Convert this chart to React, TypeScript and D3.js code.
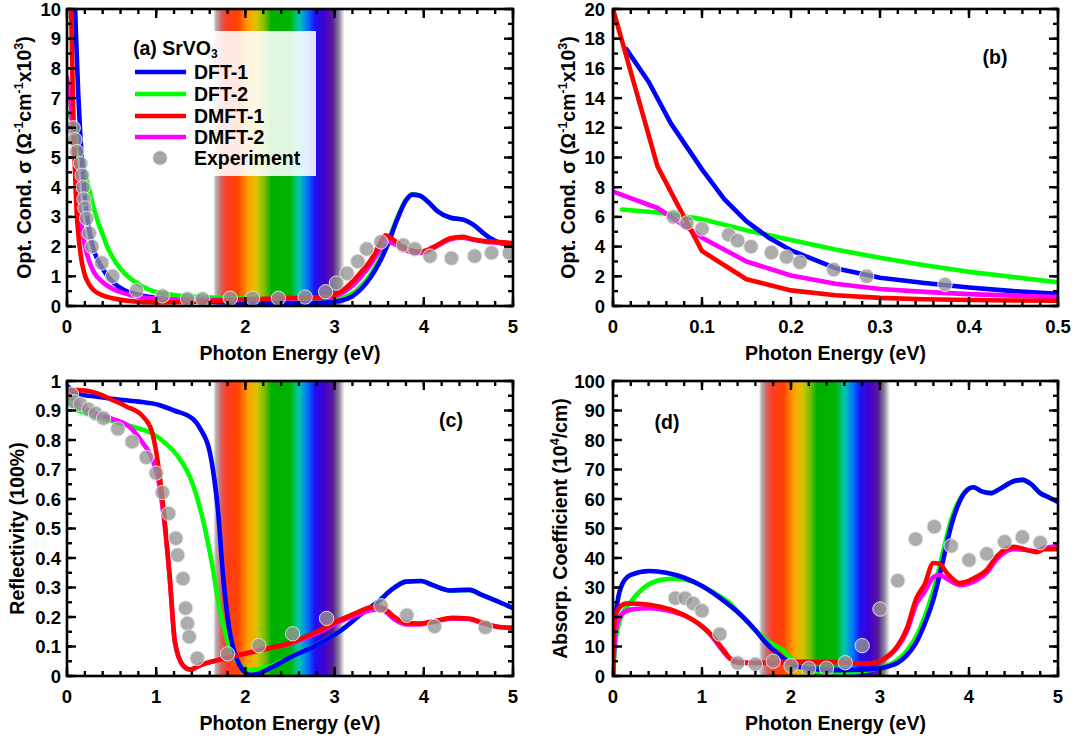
import React from 'react';
import * as d3 from 'd3';

type Pt = [number, number];

// ---------- Panel (a): optical conductivity 0-5 eV ----------
const aDFT1: Pt[] = [[0.015,17.3],[0.04,15.1],[0.065,12.4],[0.1,9.2],[0.125,7.2],[0.15,5.7],[0.2,3.7],[0.25,2.55],[0.3,1.9],[0.4,1.25],[0.5,0.85],[0.65,0.52],[0.8,0.38],[1.0,0.27],[1.25,0.19],[1.5,0.15],[2.0,0.11],[2.5,0.1],[2.9,0.12],[3.0,0.15],[3.1,0.2],[3.2,0.33],[3.3,0.58],[3.4,0.95],[3.5,1.45],[3.6,2.1],[3.7,2.9],[3.8,3.55],[3.87,3.75],[3.95,3.72],[4.05,3.5],[4.15,3.2],[4.3,2.97],[4.45,2.9],[4.55,2.75],[4.65,2.5],[4.75,2.27],[4.85,2.13],[5.0,2.06]];
const aDFT2: Pt[] = [[0.01,6.5],[0.05,6.3],[0.1,5.85],[0.15,5.15],[0.2,4.5],[0.25,3.9],[0.3,3.3],[0.35,2.8],[0.4,2.4],[0.45,2.0],[0.5,1.7],[0.6,1.25],[0.7,0.95],[0.85,0.65],[1.0,0.47],[1.2,0.37],[1.5,0.3],[2.0,0.25],[2.5,0.22],[2.9,0.2],[3.0,0.22],[3.1,0.28],[3.2,0.42],[3.3,0.68],[3.4,1.05],[3.5,1.55],[3.6,2.2],[3.7,2.95],[3.8,3.57],[3.87,3.76],[3.95,3.72],[4.05,3.5],[4.15,3.2],[4.3,2.97],[4.45,2.9],[4.55,2.75],[4.65,2.5],[4.75,2.27],[4.85,2.13],[5.0,2.06]];
const aDMFT1: Pt[] = [[0,20],[0.05,9.4],[0.1,3.7],[0.15,1.8],[0.2,1.05],[0.25,0.72],[0.3,0.53],[0.4,0.36],[0.5,0.27],[0.7,0.17],[1.0,0.12],[1.5,0.15],[2.0,0.22],[2.5,0.27],[2.9,0.3],[3.0,0.38],[3.1,0.55],[3.2,0.82],[3.3,1.15],[3.4,1.52],[3.5,2.05],[3.57,2.38],[3.65,2.25],[3.75,2.02],[3.85,1.88],[3.95,1.83],[4.05,1.9],[4.15,2.05],[4.3,2.28],[4.43,2.33],[4.55,2.25],[4.7,2.18],[4.85,2.15],[5.0,2.12]];
const aDMFT2: Pt[] = [[0,7.7],[0.05,6.6],[0.1,4.6],[0.15,3.0],[0.2,2.05],[0.25,1.5],[0.3,1.15],[0.4,0.8],[0.5,0.6],[0.7,0.38],[1.0,0.25],[1.5,0.2],[2.0,0.22],[2.5,0.25],[2.9,0.28],[3.0,0.33],[3.1,0.46],[3.2,0.68],[3.3,1.0],[3.4,1.38],[3.5,1.85],[3.58,2.18],[3.65,2.12],[3.75,1.95],[3.85,1.82],[3.95,1.79],[4.05,1.86],[4.15,2.02],[4.3,2.25],[4.43,2.3],[4.55,2.23],[4.7,2.16],[4.85,2.13],[5.0,2.1]];
const aExp: Pt[] = [[0.07,6.0],[0.09,5.6],[0.11,5.2],[0.15,4.8],[0.17,4.4],[0.18,4.0],[0.19,3.6],[0.2,3.3],[0.22,2.95],[0.25,2.45],[0.28,2.0],[0.39,1.45],[0.51,1.0],[0.78,0.52],[1.07,0.34],[1.35,0.24],[1.52,0.24],[1.83,0.26],[2.08,0.26],[2.37,0.26],[2.67,0.3],[2.9,0.48],[3.02,0.77],[3.14,1.1],[3.26,1.5],[3.36,1.92],[3.52,2.16],[3.77,2.05],[3.9,1.92],[4.07,1.68],[4.31,1.61],[4.57,1.68],[4.76,1.79],[4.96,1.79]];

// ---------- Panel (b): optical conductivity 0-0.5 eV ----------
const bDFT1: Pt[] = [[0.015,17.3],[0.04,15.1],[0.065,12.3],[0.1,9.2],[0.125,7.2],[0.15,5.7],[0.175,4.6],[0.2,3.75],[0.25,2.55],[0.3,1.9],[0.35,1.55],[0.4,1.25],[0.45,1.0],[0.5,0.82]];
const bDFT2: Pt[] = [[0.01,6.5],[0.05,6.3],[0.1,5.85],[0.15,5.1],[0.2,4.45],[0.25,3.8],[0.3,3.25],[0.35,2.75],[0.4,2.3],[0.45,1.95],[0.5,1.6]];
const bDMFT1: Pt[] = [[0,20],[0.05,9.4],[0.1,3.7],[0.15,1.8],[0.2,1.05],[0.25,0.72],[0.3,0.55],[0.35,0.45],[0.4,0.4],[0.45,0.37],[0.5,0.35]];
const bDMFT2: Pt[] = [[0,7.7],[0.05,6.6],[0.1,4.6],[0.15,3.0],[0.2,2.05],[0.25,1.5],[0.3,1.15],[0.35,0.95],[0.4,0.8],[0.45,0.7],[0.5,0.6]];
const bExp: Pt[] = [[0.068,6.0],[0.083,5.6],[0.1,5.2],[0.13,4.8],[0.14,4.4],[0.155,4.0],[0.178,3.6],[0.195,3.3],[0.21,2.95],[0.248,2.45],[0.285,2.0],[0.373,1.45]];

// ---------- Panel (c): reflectivity ----------
const cDFT1: Pt[] = [[0,0.985],[0.1,0.958],[0.3,0.948],[0.5,0.94],[0.8,0.93],[1.04,0.918],[1.2,0.9],[1.41,0.872],[1.5,0.835],[1.6,0.76],[1.65,0.67],[1.69,0.57],[1.75,0.34],[1.83,0.14],[1.9,0.06],[1.97,0.02],[2.05,0.004],[2.12,0.006],[2.3,0.03],[2.5,0.063],[2.8,0.105],[3.06,0.152],[3.3,0.21],[3.5,0.255],[3.65,0.295],[3.8,0.32],[3.97,0.322],[4.1,0.308],[4.29,0.29],[4.51,0.292],[4.65,0.275],[4.85,0.25],[5.0,0.23]];
const cDFT2: Pt[] = [[0,0.93],[0.1,0.905],[0.3,0.883],[0.5,0.865],[0.79,0.84],[0.97,0.82],[1.1,0.79],[1.23,0.75],[1.41,0.65],[1.52,0.535],[1.62,0.39],[1.71,0.23],[1.79,0.13],[1.86,0.07],[1.95,0.035],[2.05,0.02],[2.12,0.022],[2.3,0.035],[2.5,0.065],[2.8,0.106],[3.06,0.152],[3.3,0.21],[3.5,0.255],[3.65,0.295],[3.8,0.32],[3.97,0.322],[4.1,0.308],[4.29,0.29],[4.51,0.292],[4.65,0.275],[4.85,0.25],[5.0,0.23]];
const cDMFT1: Pt[] = [[0,0.97],[0.2,0.968],[0.35,0.957],[0.5,0.937],[0.67,0.913],[0.85,0.88],[0.95,0.83],[1.0,0.76],[1.08,0.57],[1.15,0.34],[1.21,0.115],[1.3,0.037],[1.38,0.022],[1.5,0.038],[1.64,0.05],[1.8,0.062],[1.94,0.072],[2.2,0.09],[2.5,0.112],[2.8,0.15],[3.06,0.19],[3.25,0.215],[3.39,0.232],[3.47,0.235],[3.56,0.228],[3.67,0.2],[3.8,0.18],[3.95,0.178],[4.1,0.185],[4.32,0.197],[4.5,0.195],[4.65,0.182],[4.81,0.168],[5.0,0.163]];
const cDMFT2: Pt[] = [[0,0.955],[0.1,0.925],[0.3,0.893],[0.5,0.872],[0.7,0.845],[0.85,0.79],[0.95,0.74],[1.02,0.67],[1.08,0.55],[1.15,0.34],[1.21,0.115],[1.3,0.035],[1.38,0.022],[1.5,0.037],[1.64,0.05],[1.8,0.062],[1.94,0.072],[2.2,0.09],[2.5,0.11],[2.8,0.145],[3.06,0.185],[3.25,0.207],[3.39,0.222],[3.47,0.226],[3.56,0.22],[3.67,0.192],[3.8,0.175],[3.95,0.175],[4.1,0.183],[4.32,0.195],[4.5,0.193],[4.65,0.18],[4.81,0.168],[5.0,0.163]];
const cExp: Pt[] = [[0.05,0.955],[0.08,0.93],[0.15,0.921],[0.24,0.904],[0.32,0.89],[0.41,0.874],[0.57,0.838],[0.73,0.794],[0.89,0.741],[1.0,0.688],[1.07,0.622],[1.14,0.551],[1.22,0.467],[1.24,0.41],[1.3,0.33],[1.33,0.23],[1.35,0.178],[1.37,0.133],[1.46,0.06],[1.8,0.075],[2.15,0.103],[2.53,0.143],[2.91,0.195],[3.52,0.238],[3.81,0.206],[4.12,0.168],[4.69,0.165]];

// ---------- Panel (d): absorption coefficient ----------
const dDFT1: Pt[] = [[0,0],[0.02,17],[0.05,25],[0.11,31.5],[0.2,34.3],[0.41,35.6],[0.6,35],[0.8,33.3],[1.0,30.5],[1.2,26.5],[1.46,20],[1.6,15.5],[1.69,12.2],[1.84,7.8],[1.99,4.4],[2.2,2.5],[2.5,2],[2.8,2.1],[3.0,2.6],[3.1,3.3],[3.2,4.5],[3.3,7],[3.4,11],[3.5,17.5],[3.6,26],[3.7,38],[3.8,51],[3.9,59.5],[4.0,63.5],[4.05,64],[4.15,62.5],[4.25,62],[4.35,63.5],[4.5,66],[4.6,66.5],[4.7,65],[4.8,62],[4.9,60.5],[5.0,59]];
const dDFT2: Pt[] = [[0,0],[0.03,12],[0.08,19],[0.19,24.7],[0.35,30],[0.53,32.5],[0.7,33],[0.9,32],[1.1,28.8],[1.3,25],[1.46,20],[1.6,15.5],[1.7,12.8],[1.8,10.6],[1.9,9],[2.0,6],[2.1,3.8],[2.2,2.4],[2.4,1.3],[2.6,1.3],[2.8,1.6],[3.0,2.8],[3.1,3.8],[3.2,5.5],[3.3,8.5],[3.4,13],[3.5,20],[3.6,29],[3.7,41],[3.8,53],[3.9,60],[4.0,63.6],[4.05,64],[4.15,62.5],[4.25,62],[4.35,63.5],[4.5,66],[4.6,66.5],[4.7,65],[4.8,62],[4.9,60.5],[5.0,59]];
const dDMFT1: Pt[] = [[0,0],[0.01,15],[0.03,20.5],[0.08,23.5],[0.15,24.6],[0.3,24.5],[0.53,23.5],[0.7,22],[0.9,19],[1.09,14.5],[1.24,8.9],[1.35,5],[1.46,4.4],[1.6,4.4],[2.0,4.8],[2.5,4.7],[2.8,4.2],[2.9,4.3],[3.0,5],[3.1,7],[3.19,9.9],[3.3,16],[3.41,26.5],[3.5,31],[3.6,38.3],[3.67,38],[3.75,35],[3.9,31.5],[4.09,33.7],[4.2,36],[4.31,40.5],[4.5,43.8],[4.62,43],[4.76,42],[4.85,43],[5.0,43]];
const dDMFT2: Pt[] = [[0,0],[0.02,12],[0.05,18],[0.1,21],[0.2,22.5],[0.4,23],[0.6,22.3],[0.8,20.5],[1.0,16.8],[1.1,13.8],[1.2,9.8],[1.3,6.3],[1.4,4.8],[1.6,4.4],[2.0,4.8],[2.5,4.7],[2.8,4.2],[2.9,4.3],[3.0,5],[3.1,6.8],[3.19,9.5],[3.3,15],[3.41,24.5],[3.5,28.5],[3.6,33.5],[3.67,34.3],[3.75,33],[3.9,30.8],[4.09,32.5],[4.2,35],[4.31,39.5],[4.5,43],[4.62,42.8],[4.76,42.3],[4.85,43.5],[5.0,44]];
const dExp: Pt[] = [[0.7,26.4],[0.81,26.4],[0.9,24.6],[1.0,22.1],[1.2,14.2],[1.4,4.4],[1.6,4.0],[1.8,5.0],[2.0,3.5],[2.2,2.6],[2.4,2.6],[2.61,4.5],[2.8,10.3],[3.0,22.7],[3.2,32.3],[3.4,46.4],[3.61,50.6],[3.8,44.1],[4.0,39.3],[4.2,41.4],[4.4,45.5],[4.6,47.1],[4.8,45.2]];

// ---------- axes ----------
const xTicksEV = [0, 1, 2, 3, 4, 5];
const xTicksLow = [0, 0.1, 0.2, 0.3, 0.4, 0.5];
const yTicksA = [0, 1, 2, 3, 4, 5, 6, 7, 8, 9, 10];
const yTicksB = [0, 2, 4, 6, 8, 10, 12, 14, 16, 18, 20];
const yTicksC = [0, 0.1, 0.2, 0.3, 0.4, 0.5, 0.6, 0.7, 0.8, 0.9, 1];
const yTicksD = [0, 10, 20, 30, 40, 50, 60, 70, 80, 90, 100];

const seriesNames = ['DFT-1', 'DFT-2', 'DMFT-1', 'DMFT-2'];
const seriesColors = ['#0000ff', '#00ff00', '#ff0000', '#ff00ff'];
const drawOrder = [1, 0, 3, 2];

// visible-spectrum band (eV -> colour)
const bandEV = [1.64, 1.67, 1.73, 1.79, 1.92, 2.03, 2.13, 2.22, 2.29, 2.5, 2.6, 2.7, 2.78, 2.88, 2.98, 3.05, 3.11];
const bandColors = ['#fafafa', '#b5b0b0', '#d86060', '#ff3a20', '#ff4400', '#ffa000', '#d8c400', '#70c000', '#00b000', '#00b400', '#00c8b0', '#0070ff', '#2010f0', '#3f00d0', '#5a1a96', '#8a8898', '#fafafa'];

const FONT = '"Liberation Sans", Arial, Helvetica, sans-serif';
const TICK_FS = 18.5;
const TITLE_FS = 19.5;

type Box = { l: number; r: number; t: number; b: number };

interface PanelProps {
  id: string;
  box: Box;
  xDom: [number, number];
  yDom: [number, number];
  xTicks: number[];
  xMinorStep: number;
  yTicks: number[];
  yMinorStep: number;
  series: Pt[][];
  exp: Pt[];
  curve: d3.CurveFactory;
  band: boolean;
  yTitle: React.ReactNode;
  yTitleX: number;
  yLabelGap: number;
  children?: (x: d3.ScaleLinear<number, number>, y: d3.ScaleLinear<number, number>) => React.ReactNode;
}

function Panel(p: PanelProps) {
  const { box } = p;
  const x = d3.scaleLinear().domain(p.xDom).range([box.l, box.r]);
  const y = d3.scaleLinear().domain(p.yDom).range([box.b, box.t]);
  const line = d3.line<Pt>().x(d => x(d[0])).y(d => y(d[1])).curve(p.curve);
  const eps = 1e-9;
  const xMinor = d3.range(p.xDom[0], p.xDom[1] + eps, p.xMinorStep);
  const yMinor = d3.range(p.yDom[0], p.yDom[1] + eps, p.yMinorStep);
  const MAJ = 9, MIN = 5;
  const tickStroke = { stroke: '#000', strokeWidth: 2.4 };
  const fmt = (v: number) => (Math.round(v * 100) / 100).toString();
  const bandId = `band-${p.id}`;
  const clipId = `clip-${p.id}`;
  return (
    <g>
      <defs>
        <clipPath id={clipId}>
          <rect x={box.l} y={box.t} width={box.r - box.l} height={box.b - box.t} />
        </clipPath>
        {p.band && (
          <linearGradient id={bandId} gradientUnits="userSpaceOnUse" x1={x(bandEV[0])} x2={x(bandEV[bandEV.length - 1])} y1={0} y2={0}>
            {bandEV.map((e, i) => (
              <stop key={i} offset={(e - bandEV[0]) / (bandEV[bandEV.length - 1] - bandEV[0])} stopColor={bandColors[i]} />
            ))}
          </linearGradient>
        )}
      </defs>
      {p.band && (
        <rect x={x(bandEV[0])} y={box.t} width={x(bandEV[bandEV.length - 1]) - x(bandEV[0])} height={box.b - box.t} fill={`url(#${bandId})`} />
      )}
      <g clipPath={`url(#${clipId})`}>
        {drawOrder.map(i => (
          <path key={i} d={line(p.series[i]) || ''} fill="none" stroke={seriesColors[i]} strokeWidth={4.6} strokeLinejoin="round" strokeLinecap="round" />
        ))}
        {p.exp.map((d, i) => (
          <circle key={i} cx={x(d[0])} cy={y(d[1])} r={7.2} fill="#959595" fillOpacity={0.78} stroke="#e0e0e0" strokeWidth={1} />
        ))}
      </g>
      {p.children && p.children(x, y)}
      {xMinor.map((v, i) => (
        <g key={'xm' + i}>
          <line x1={x(v)} x2={x(v)} y1={box.b} y2={box.b - MIN} {...tickStroke} />
          <line x1={x(v)} x2={x(v)} y1={box.t} y2={box.t + MIN} {...tickStroke} />
        </g>
      ))}
      {yMinor.map((v, i) => (
        <g key={'ym' + i}>
          <line x1={box.l} x2={box.l + MIN} y1={y(v)} y2={y(v)} {...tickStroke} />
          <line x1={box.r} x2={box.r - MIN} y1={y(v)} y2={y(v)} {...tickStroke} />
        </g>
      ))}
      {p.xTicks.map((v, i) => (
        <g key={'xM' + i}>
          <line x1={x(v)} x2={x(v)} y1={box.b} y2={box.b - MAJ} {...tickStroke} />
          <line x1={x(v)} x2={x(v)} y1={box.t} y2={box.t + MAJ} {...tickStroke} />
          <text x={x(v)} y={box.b + 27} textAnchor="middle" fontFamily={FONT} fontWeight="bold" fontSize={TICK_FS}>{fmt(v)}</text>
        </g>
      ))}
      {p.yTicks.map((v, i) => (
        <g key={'yM' + i}>
          <line x1={box.l} x2={box.l + MAJ} y1={y(v)} y2={y(v)} {...tickStroke} />
          <line x1={box.r} x2={box.r - MAJ} y1={y(v)} y2={y(v)} {...tickStroke} />
          <text x={box.l - p.yLabelGap} y={y(v) + 6.5} textAnchor="end" fontFamily={FONT} fontWeight="bold" fontSize={TICK_FS}>{fmt(v)}</text>
        </g>
      ))}
      <rect x={box.l} y={box.t} width={box.r - box.l} height={box.b - box.t} fill="none" stroke="#000" strokeWidth={2.6} />
      <text x={(box.l + box.r) / 2} y={box.b + 54} textAnchor="middle" fontFamily={FONT} fontWeight="bold" fontSize={TITLE_FS}>Photon Energy (eV)</text>
      <text transform={`translate(${p.yTitleX},${(box.t + box.b) / 2}) rotate(-90)`} textAnchor="middle" fontFamily={FONT} fontWeight="bold" fontSize={TITLE_FS}>{p.yTitle}</text>
    </g>
  );
}

const condTitle = (
  <>
    {'Opt. Cond. σ (Ω'}<tspan dy={-8} fontSize={12.5}>-1</tspan><tspan dy={8}>cm</tspan><tspan dy={-8} fontSize={12.5}>-1</tspan><tspan dy={8}>x10</tspan><tspan dy={-8} fontSize={12.5}>3</tspan><tspan dy={8}>)</tspan>
  </>
);
const absTitle = (
  <>
    {'Absorp. Coefficient (10'}<tspan dy={-8} fontSize={12.5}>4</tspan><tspan dy={8}>/cm)</tspan>
  </>
);

export default function App() {
  const boxA: Box = { l: 67, r: 513, t: 9, b: 306 };
  const boxB: Box = { l: 613, r: 1058, t: 9, b: 306 };
  const boxC: Box = { l: 67, r: 513, t: 381, b: 676 };
  const boxD: Box = { l: 613, r: 1058, t: 381, b: 676 };
  const legendRows = [72, 94, 116, 137];
  return (
    <svg width={1080} height={745} style={{ position: 'absolute', left: 0, top: 0, background: '#fff' }}>
      <rect x={0} y={0} width={1080} height={745} fill="#fff" />
      <Panel id="a" box={boxA} xDom={[0, 5]} yDom={[0, 10]} xTicks={xTicksEV} xMinorStep={0.2} yTicks={yTicksA} yMinorStep={0.5}
        series={[aDFT1, aDFT2, aDMFT1, aDMFT2]} exp={aExp} curve={d3.curveMonotoneX} band={true}
        yTitle={condTitle} yTitleX={31} yLabelGap={6}>
        {() => (
          <g fontFamily={FONT} fontWeight="bold" fontSize={TITLE_FS}>
            <rect x={118} y={31} width={198} height={145} fill="#fff" fillOpacity={0.88} />
            <text x={133} y={55}>(a) SrVO<tspan dy={3} fontSize={12}>3</tspan></text>
            {seriesNames.map((n, i) => (
              <g key={n}>
                <line x1={135} x2={186} y1={legendRows[i]} y2={legendRows[i]} stroke={seriesColors[i]} strokeWidth={4.6} />
                <text x={194} y={legendRows[i] + 7}>{n}</text>
              </g>
            ))}
            <circle cx={160} cy={158} r={7.2} fill="#959595" fillOpacity={0.85} stroke="#e0e0e0" strokeWidth={1} />
            <text x={194} y={165}>Experiment</text>
          </g>
        )}
      </Panel>
      <Panel id="b" box={boxB} xDom={[0, 0.5]} yDom={[0, 20]} xTicks={xTicksLow} xMinorStep={0.02} yTicks={yTicksB} yMinorStep={1}
        series={[bDFT1, bDFT2, bDMFT1, bDMFT2]} exp={bExp} curve={d3.curveLinear} band={false}
        yTitle={condTitle} yTitleX={575} yLabelGap={8}>
        {() => <text x={995} y={64} textAnchor="middle" fontFamily={FONT} fontWeight="bold" fontSize={TITLE_FS}>(b)</text>}
      </Panel>
      <Panel id="c" box={boxC} xDom={[0, 5]} yDom={[0, 1]} xTicks={xTicksEV} xMinorStep={0.2} yTicks={yTicksC} yMinorStep={0.05}
        series={[cDFT1, cDFT2, cDMFT1, cDMFT2]} exp={cExp} curve={d3.curveMonotoneX} band={true}
        yTitle={'Reflectivity (100%)'} yTitleX={24} yLabelGap={6}>
        {() => <text x={451} y={427} textAnchor="middle" fontFamily={FONT} fontWeight="bold" fontSize={TITLE_FS}>(c)</text>}
      </Panel>
      <Panel id="d" box={boxD} xDom={[0, 5]} yDom={[0, 100]} xTicks={xTicksEV} xMinorStep={0.2} yTicks={yTicksD} yMinorStep={5}
        series={[dDFT1, dDFT2, dDMFT1, dDMFT2]} exp={dExp} curve={d3.curveMonotoneX} band={true}
        yTitle={absTitle} yTitleX={567} yLabelGap={8}>
        {() => <text x={667} y={429} textAnchor="middle" fontFamily={FONT} fontWeight="bold" fontSize={TITLE_FS}>(d)</text>}
      </Panel>
    </svg>
  );
}
